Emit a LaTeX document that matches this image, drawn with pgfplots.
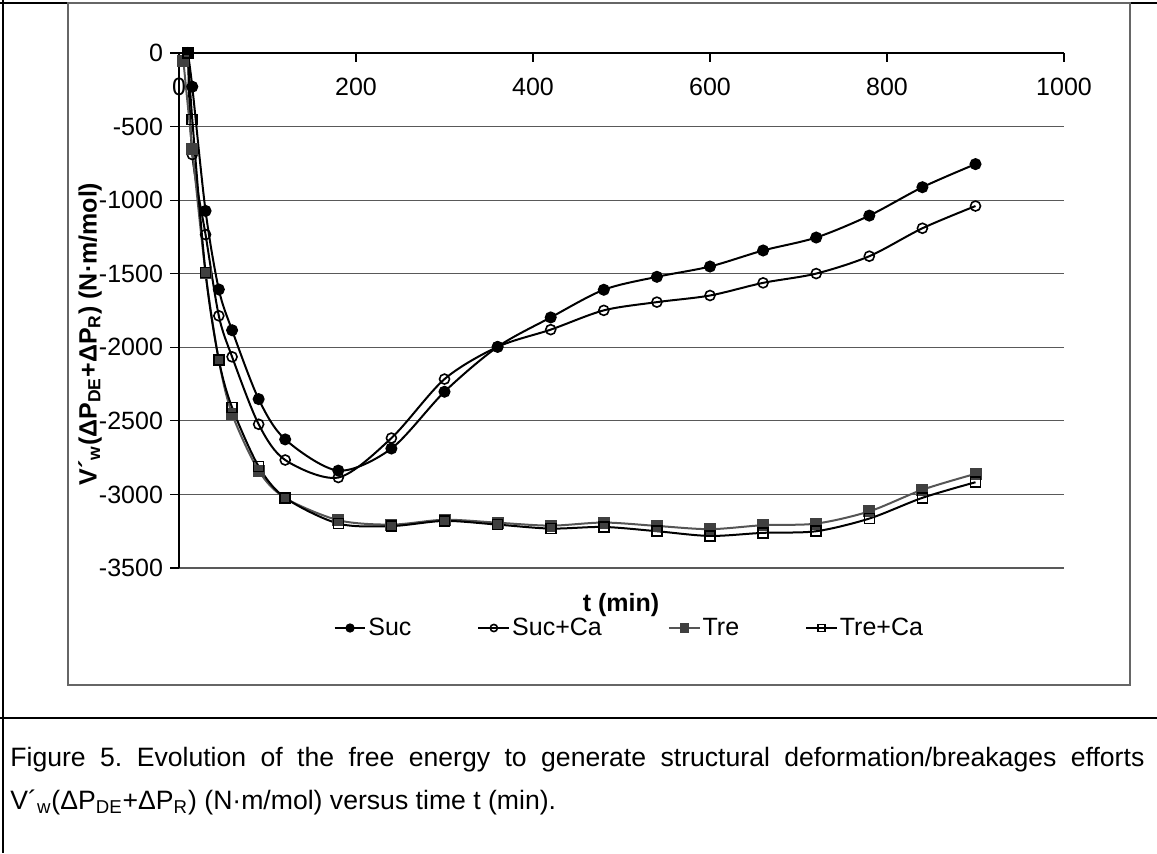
\documentclass[border=0pt]{standalone}
\usepackage{fontspec}
\setmainfont{Liberation Sans}
\usepackage{pgfplots}
\pgfplotsset{compat=1.18}
\definecolor{tregray}{HTML}{555555}
\definecolor{tremark}{HTML}{404040}
\begin{document}
\frenchspacing
\begin{tikzpicture}
\useasboundingbox (0,0) rectangle (578.5pt,-426.5pt);
% frame
\draw[line width=1pt] (0,-1.5pt) -- (578.5pt,-1.5pt);
\draw[line width=1pt] (1.5pt,0) -- (1.5pt,-426.5pt);
\draw[line width=1pt] (0,-359pt) -- (578.5pt,-359pt);
\draw[black!60, line width=0.7pt] (34pt,-1.5pt) rectangle (565pt,-342.5pt);
\begin{axis}[
  at={(89.5pt,-284pt)}, anchor=south west,
  scale only axis, width=442.5pt, height=257.5pt,
  xmin=0, xmax=1000, ymin=-3500, ymax=0,
  axis x line=top, axis y line=left,
  axis line style={-, black, line width=0.6pt},
  xtick={0,200,400,600,800,1000},
  xticklabels={0,200,400,600,800,1000},
  ytick={-3500,-3000,-2500,-2000,-1500,-1000,-500,0},
  yticklabels={-3500,-3000,-2500,-2000,-1500,-1000,-500,0},
  tick align=outside,
  major tick length=4.5pt,
  tick style={black, line width=0.6pt},
  xtick style={yshift=-4.5pt},
  x tick label style={anchor=center, yshift=-21.5pt, font=\fontsize{12.5}{14}\selectfont},
  y tick label style={font=\fontsize{12.5}{14}\selectfont},
  ymajorgrids, grid style={black!65, line width=0.6pt},
  clip=false,
  legend style={at={(0.51,-0.1165)}, anchor=center, draw=none, fill=none,
    legend columns=4, font=\fontsize{12.5}{14}\selectfont,
    /tikz/every even column/.append style={column sep=31pt},
    /tikz/every odd column/.append style={column sep=-1pt}},
  legend image code/.code={\draw[mark repeat=2,mark phase=2,#1] plot coordinates {(0cm,0cm) (0.27cm,0cm) (0.54cm,0cm)};},
  legend image post style={mark size=1.8pt},
]
\addplot[black, line width=1pt, smooth, mark=*, mark size=2.5pt, mark options={fill=black}] coordinates {
(10,0) (15,-229) (30,-1073) (45,-1607) (60,-1884) (90,-2352) (120,-2626) (180,-2838) (240,-2688) (300,-2302) (360,-1997) (420,-1797) (480,-1609) (540,-1521) (600,-1451) (660,-1342) (720,-1254) (780,-1105) (840,-912) (900,-755)};
\addlegendentry{Suc}
\addplot[black, line width=1pt, smooth, mark=o, mark size=2.5pt, mark options={fill=white, line width=0.8pt}] coordinates {
(10,0) (15,-690) (30,-1234) (45,-1786) (60,-2065) (90,-2523) (120,-2766) (180,-2885) (240,-2617) (300,-2216) (360,-1997) (420,-1880) (480,-1749) (540,-1693) (600,-1648) (660,-1562) (720,-1499) (780,-1381) (840,-1191) (900,-1040)};
\addlegendentry{Suc+Ca}
\addplot[tregray, line width=1pt, smooth, mark=square*, mark size=2.5pt, mark options={fill=tremark, draw=tremark}] coordinates {
(5,-56) (15,-655) (30,-1494) (45,-2088) (60,-2453) (90,-2838) (120,-3024) (180,-3175) (240,-3205) (300,-3172) (360,-3192) (420,-3212) (480,-3191) (540,-3214) (600,-3236) (660,-3209) (720,-3198) (780,-3115) (840,-2968) (900,-2860)};
\addlegendentry{Tre}
\addplot[black, line width=1pt, smooth, mark=square, mark size=2.5pt, mark options={fill=white, line width=0.8pt}] coordinates {
(10,0) (15,-452) (30,-1492) (45,-2085) (60,-2409) (90,-2810) (120,-3023) (180,-3198) (240,-3215) (300,-3180) (360,-3205) (420,-3232) (480,-3221) (540,-3250) (600,-3282) (660,-3261) (720,-3250) (780,-3164) (840,-3023) (900,-2917)};
\addlegendentry{Tre+Ca}
\end{axis}
\node[rotate=90, font=\bfseries\fontsize{12.5}{14}\selectfont] at (45pt,-167pt) {V\textasciiacute\textsubscript{w}(ΔP\textsubscript{DE}+ΔP\textsubscript{R}) (N·m/mol)};
\node[font=\bfseries\fontsize{12.5}{14}\selectfont] at (310.5pt,-302.5pt) {t (min)};
\node[anchor=base west, inner sep=0pt, font=\fontsize{13.3}{15}\selectfont] at (5pt,-383pt) {\makebox[567pt][s]{Figure 5. Evolution of the free energy to generate structural deformation/breakages efforts}};
\node[anchor=base west, inner sep=0pt, font=\fontsize{13.3}{15}\selectfont] at (5pt,-404.5pt) {V\textasciiacute\textsubscript{w}(ΔP\textsubscript{DE}+ΔP\textsubscript{R}) (N·m/mol) versus time t (min).};
\end{tikzpicture}
\end{document}
